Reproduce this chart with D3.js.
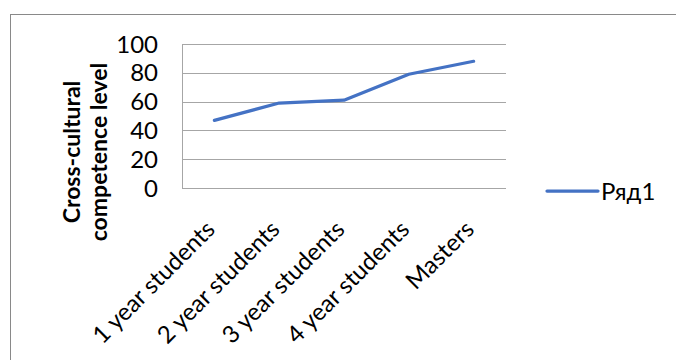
<!DOCTYPE html>
<html>
<head>
<meta charset="utf-8">
<script src="https://cdn.jsdelivr.net/npm/d3@7"></script>
<style>
  body { margin: 0; background: #fff; }
  text { font-family: Lato, "Open Sans", sans-serif; fill: #000; }
</style>
</head>
<body>
<svg id="chart" width="676" height="360"></svg>
<script>
var categories = ["1 year students", "2 year students", "3 year students", "4 year students", "Masters"];
var values = [47, 59, 61, 79, 88];
var yTicks = [0, 20, 40, 60, 80, 100];
var seriesName = "Ряд1";
var axisTitle = ["Cross-cultural", "competence level"];

var svg = d3.select("#chart");

// chart border (runs off the right and bottom edge)
svg.append("rect")
    .attr("x", 10.5).attr("y", 14.5)
    .attr("width", 700).attr("height", 400)
    .attr("fill", "none")
    .attr("stroke", "#898989")
    .attr("stroke-width", 1);

var plotL = 182, plotR = 506, plotT = 44, plotB = 188;

var x = d3.scalePoint()
    .domain(categories)
    .range([plotL, plotR])
    .padding(0.5);

var y = d3.scaleLinear()
    .domain([0, 100])
    .range([plotB, plotT]);

// gridlines
svg.append("g")
    .selectAll("line")
    .data(yTicks)
    .enter().append("line")
    .attr("x1", plotL).attr("x2", plotR)
    .attr("y1", d => Math.round(y(d)) + 0.5)
    .attr("y2", d => Math.round(y(d)) + 0.5)
    .attr("stroke", "#a6a6a6")
    .attr("stroke-width", 1);

// left axis line
svg.append("line")
    .attr("x1", plotL + 0.5).attr("x2", plotL + 0.5)
    .attr("y1", plotT).attr("y2", plotB)
    .attr("stroke", "#a6a6a6");

// y labels
svg.append("g")
    .selectAll("text")
    .data(yTicks)
    .enter().append("text")
    .attr("x", 158)
    .attr("y", d => y(d))
    .attr("dy", "0.36em")
    .attr("text-anchor", "end")
    .style("font-size", "24px")
    .text(d => d);

// x labels, rotated
svg.append("g")
    .selectAll("text")
    .data(categories)
    .enter().append("text")
    .attr("transform", d => "translate(" + (x(d) + 2) + "," + (plotB + 43) + ") rotate(-45)")
    .attr("text-anchor", "end")
    .style("font-size", "24px")
    .text(d => d);

// axis title
var title = svg.append("text")
    .attr("transform", "translate(80,152) rotate(-90)")
    .attr("text-anchor", "middle")
    .style("font-size", "23px")
    .style("font-weight", "bold");
title.selectAll("tspan")
    .data(axisTitle)
    .enter().append("tspan")
    .attr("x", 0)
    .attr("dy", (d, i) => i == 0 ? 0 : 27)
    .text(d => d);

// series line
var line = d3.line()
    .x((d, i) => x(categories[i]))
    .y(d => y(d));

svg.append("path")
    .datum(values)
    .attr("d", line)
    .attr("fill", "none")
    .attr("stroke", "#4472c4")
    .attr("stroke-width", 3.25)
    .attr("stroke-linejoin", "round")
    .attr("stroke-linecap", "round");

// legend
svg.append("line")
    .attr("x1", 547).attr("x2", 598)
    .attr("y1", 191).attr("y2", 191)
    .attr("stroke", "#4472c4")
    .attr("stroke-width", 3.25)
    .attr("stroke-linecap", "round");

svg.append("text")
    .attr("x", 601)
    .attr("y", 191)
    .attr("dy", "0.36em")
    .style("font-size", "24px")
    .text(seriesName);
</script>
</body>
</html>
